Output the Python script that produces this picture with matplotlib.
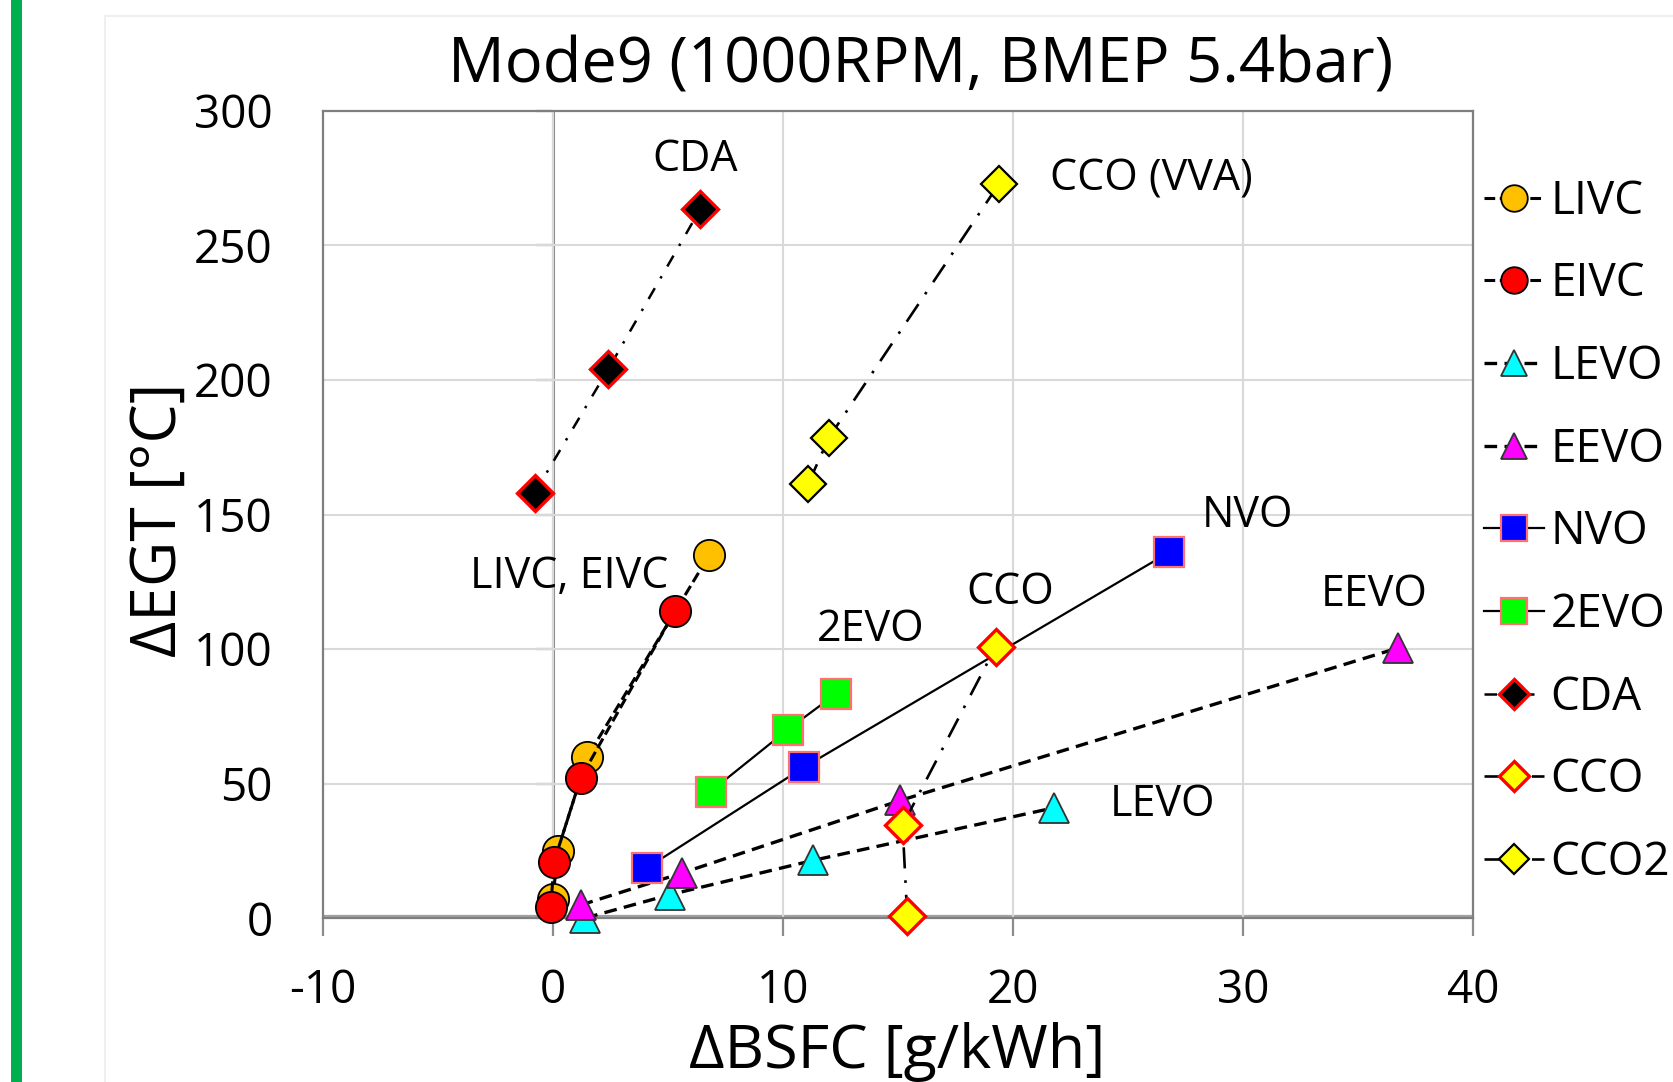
import numpy as np
import matplotlib.pyplot as plt
from matplotlib.patches import Rectangle

plt.rcParams['font.family'] = ['Open Sans', 'DejaVu Sans']
plt.rcParams['axes.unicode_minus'] = False

# data (dBSFC g/kWh, dEGT degC)
livc_x = [0.0, 0.2, 1.5, 6.8]
livc_y = [7, 25, 60, 135]
eivc_x = [-0.1, 0.05, 1.2, 5.3]
eivc_y = [4, 21, 52, 114]
levo_x = [1.4, 5.1, 11.3, 21.8]
levo_y = [0, 8.7, 21.4, 41]
eevo_x = [1.2, 5.6, 15.1, 36.75]
eevo_y = [4.8, 16.7, 43.7, 100.4]
nvo_x = [4.1, 10.9, 26.8]
nvo_y = [18.7, 56, 136]
evo2_x = [6.85, 10.2, 12.3]
evo2_y = [47, 70, 83.3]
cda_x = [-0.8, 2.4, 6.4]
cda_y = [158, 204, 263.5]
cco_x = [15.4, 15.2, 19.25]
cco_y = [0.8, 34.5, 100.8]
cco2_x = [11.1, 12.0, 19.4]
cco2_y = [161.5, 178.6, 273]

x_ticks = [-10, 0, 10, 20, 30, 40]
y_ticks = [0, 50, 100, 150, 200, 250, 300]

# annotation text and where it sits (data coords)
notes = [('CDA', 6.2, 282, 'center'),
         ('CCO (VVA)', 21.6, 274.5, 'left'),
         ('LIVC, EIVC', 0.7, 127, 'center'),
         ('2EVO', 13.8, 107, 'center'),
         ('CCO', 19.9, 121, 'center'),
         ('NVO', 30.2, 149.5, 'center'),
         ('EEVO', 35.7, 120, 'center'),
         ('LEVO', 26.5, 42, 'center')]

W, H = 1674, 1082
fig = plt.figure(figsize=(W / 100, H / 100), dpi=100)
ax = fig.add_axes([323 / W, 1 - 918 / H, 1150 / W, 807 / H])

# decoration of the original figure
fig.add_artist(Rectangle((11 / W, 0), 11 / W, 1, transform=fig.transFigure,
                         color='#00B050', lw=0))
fig.add_artist(Rectangle((105 / W, -0.05), 1.1, (1082 - 16) / H + 0.05,
                         transform=fig.transFigure, fill=False,
                         edgecolor='#EFEFEF', lw=1.5))

ax.set_xlim(-10, 40)
ax.set_ylim(0, 300)
ax.set_xticks(x_ticks)
ax.set_yticks(y_ticks)
ax.tick_params(length=0, labelsize=33, pad=36)
ax.tick_params(axis='x', pad=36)
ax.grid(True, color='#D9D9D9', lw=1.5, zorder=0)
for s in ax.spines.values():
    s.set_color('#7F7F7F')
    s.set_linewidth(1.6)

# axes crossing at zero, with their tick marks
ax.axvline(0, color='#8C8C8C', lw=2.2, zorder=1)
ax.axhline(0, color='#A0A0A0', lw=4.5, zorder=1)
ax.plot(np.zeros(len(y_ticks)), y_ticks, ls='none', marker=0, ms=12,
        mew=1.6, color='#8C8C8C', clip_on=False, zorder=1)
ax.plot(x_ticks, np.zeros(len(x_ticks)), ls='none', marker=3, ms=13,
        mew=1.6, color='#8C8C8C', clip_on=False, zorder=1)

kw = dict(color='black', clip_on=False, zorder=3)
h = []
h += ax.plot(livc_x, livc_y, lw=2.2, dashes=(3.5, 1.5), marker='o', ms=22.5,
             mfc='#FFC000', mec='black', mew=1.3, label='LIVC', **kw)
h += ax.plot(eivc_x, eivc_y, lw=2.2, dashes=(3.5, 1.5), marker='o', ms=22.5,
             mfc='#FF0000', mec='black', mew=1.3, label='EIVC', **kw)
h += ax.plot(levo_x, levo_y, lw=2.4, dashes=(3.8, 2.2), marker='^', ms=22,
             mfc='#00FFFF', mec='#333333', mew=1.3, label='LEVO', **kw)
h += ax.plot(eevo_x, eevo_y, lw=2.4, dashes=(3.8, 2.2), marker='^', ms=22,
             mfc='#FF00FF', mec='#333333', mew=1.3, label='EEVO', **kw)
h += ax.plot(nvo_x, nvo_y, lw=1.6, marker='s', ms=22,
             mfc='#0000FF', mec='#FF7070', mew=1.6, label='NVO', **kw)
h += ax.plot(evo2_x, evo2_y, lw=1.6, marker='s', ms=22,
             mfc='#00FF00', mec='#FF7070', mew=1.6, label='2EVO', **kw)
h += ax.plot(cda_x, cda_y, lw=1.8, dashes=(5, 4.5, 1, 4.5), marker='D', ms=18.5,
             mfc='black', mec='#FF0000', mew=2.4, label='CDA', **kw)
h += ax.plot(cco_x, cco_y, lw=1.9, dashes=(8, 4.5, 1, 4.5), marker='D', ms=18.5,
             mfc='#FFFF00', mec='#FF0000', mew=2.4, label='CCO', **kw)
h += ax.plot(cco2_x, cco2_y, lw=1.9, dashes=(8, 4.5, 1, 4.5), marker='D', ms=18.5,
             mfc='#FFFF00', mec='black', mew=1.6, label='CCO2', **kw)

for txt, x, y, ha in notes:
    ax.text(x, y, txt, fontsize=31, ha=ha, va='center', zorder=4)

fig.text(921 / W, 1 - 66 / H, 'Mode9 (1000RPM, BMEP 5.4bar)', fontsize=45.5,
         ha='center', va='center')
fig.text(897 / W, 1 - 1052 / H, 'ΔBSFC [g/kWh]', fontsize=44,
         ha='center', va='center')
fig.text(160 / W, 1 - 520 / H, 'ΔEGT [°C]', fontsize=45,
         rotation=90, ha='center', va='center')

fig.legend(handles=h, loc='center left', bbox_to_anchor=(1484 / W, 0.508),
           frameon=False, fontsize=33, handlelength=1.3, handletextpad=0.15,
           labelspacing=0.8, borderpad=0, borderaxespad=0, numpoints=1,
           markerscale=0.85)

fig.savefig('out.png', dpi=100)
